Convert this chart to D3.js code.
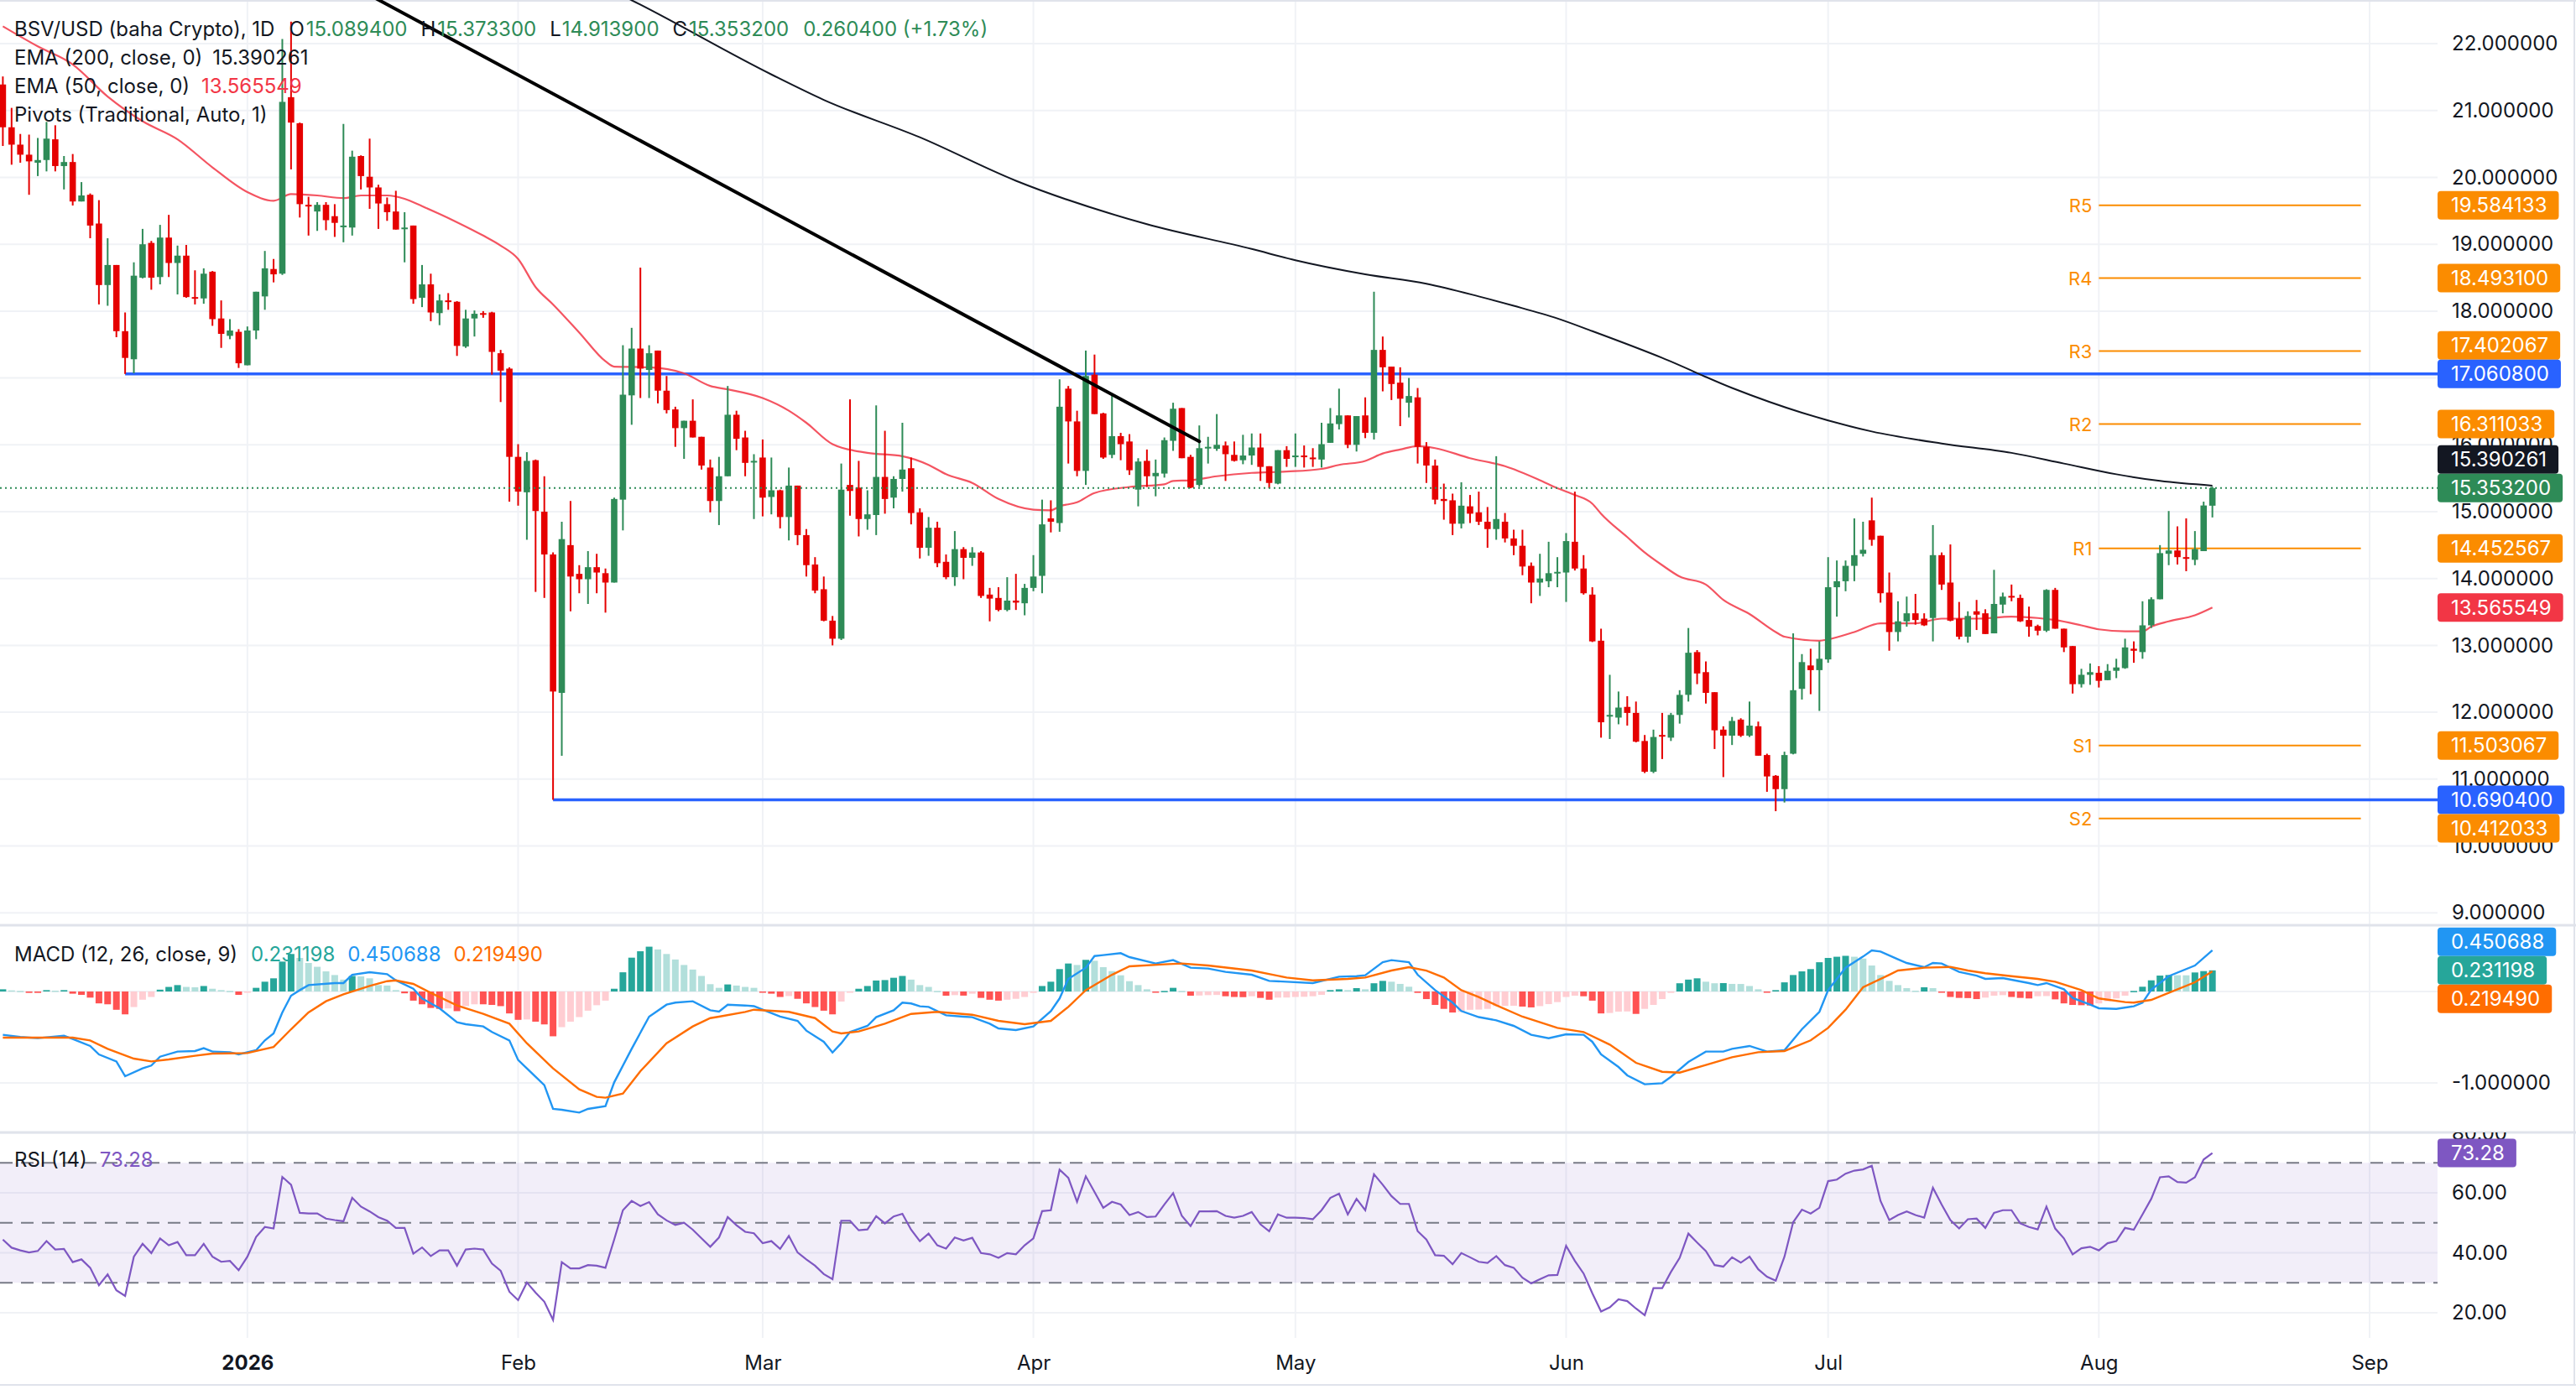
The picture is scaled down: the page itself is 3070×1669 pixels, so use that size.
<!DOCTYPE html>
<html>
<head>
<meta charset="utf-8">
<script src="https://cdn.jsdelivr.net/npm/d3@7"></script>
<style>
  html, body { margin: 0; padding: 0; background: #fff; }
  svg { display: block; font-family: Inter, "Noto Sans", sans-serif; }
</style>
</head>
<body>
<svg id="chart" width="3070" height="1669"></svg>
<script>
// Daily BSV/USD candles, first bar on this day
const firstDay = '2025-12-04';

const open = [
  21.39, 20.75, 20.49, 20.34, 20.22, 20.26, 20.57, 20.17, 20.23, 19.64,
  19.74, 19.31, 18.39, 18.69, 17.70, 17.28, 18.50, 19.02, 18.51, 19.10,
  18.72, 18.83, 18.21, 18.19, 18.59, 17.89, 17.63, 17.69, 17.19, 17.71,
  18.22, 18.63, 18.56, 21.20, 20.81, 19.59, 19.49, 19.59, 19.42, 19.26,
  19.25, 20.32, 20.01, 19.85, 19.60, 19.49, 19.23, 19.28, 18.20, 18.40,
  17.97, 18.16, 18.14, 17.47, 17.89, 17.97, 17.98, 17.37, 17.14, 15.82,
  15.29, 15.77, 15.00, 14.36, 12.29, 14.50, 14.07, 13.99, 14.17, 14.08,
  13.94, 15.18, 16.74, 17.44, 17.12, 17.41, 16.81, 16.53, 16.25, 16.36,
  16.12, 15.66, 15.16, 15.53, 16.45, 16.11, 15.74, 15.81, 15.22, 15.32,
  14.92, 15.39, 14.65, 14.21, 13.84, 13.37, 13.10, 15.40, 15.36, 14.89,
  14.95, 15.52, 15.21, 15.49, 15.65, 14.99, 14.46, 14.76, 14.25, 14.02,
  14.44, 14.31, 14.39, 13.76, 13.71, 13.53, 13.67, 13.63, 13.86, 14.04,
  14.90, 14.83, 16.84, 16.35, 15.61, 17.05, 16.47, 15.85, 16.13, 16.05,
  15.33, 15.76, 15.53, 15.57, 16.06, 16.55, 15.82, 15.40, 15.95, 15.94,
  15.99, 15.85, 15.77, 15.84, 15.96, 15.68, 15.42, 15.92, 15.82, 15.84,
  15.81, 15.78, 16.03, 16.31, 16.44, 16.00, 16.44, 16.18, 17.42, 17.17,
  16.93, 16.63, 16.71, 15.97, 15.69, 15.19, 15.17, 14.82, 15.08, 14.99,
  14.85, 14.74, 14.85, 14.60, 14.49, 14.19, 13.94, 13.96, 14.09, 14.09,
  14.55, 14.15, 13.76, 13.07, 11.94, 11.92, 12.08, 11.99, 11.57, 11.11,
  11.66, 11.62, 11.96, 12.26, 12.90, 12.60, 12.30, 11.74, 11.65, 11.89,
  11.65, 11.79, 11.36, 11.05, 10.85, 11.38, 12.35, 12.70, 12.63, 12.79,
  13.87, 13.96, 14.19, 14.37, 14.87, 14.64, 13.79, 13.20, 13.36, 13.48,
  13.40, 13.41, 14.35, 13.94, 13.40, 13.13, 13.51, 13.48, 13.18, 13.61,
  13.74, 13.71, 13.38, 13.29, 13.22, 13.83, 13.25, 12.99, 12.42, 12.56,
  12.59, 12.48, 12.62, 12.66, 12.95, 12.90, 13.30, 13.69, 14.37, 14.42,
  14.32, 14.28, 14.41, 15.0894
];
const high = [
  21.51, 21.04, 20.65, 20.64, 20.59, 20.83, 20.78, 20.32, 20.35, 19.93,
  19.76, 19.66, 19.09, 18.69, 17.98, 18.73, 19.23, 19.05, 19.29, 19.44,
  18.98, 18.99, 18.61, 18.64, 18.60, 18.16, 17.88, 17.73, 17.77, 18.29,
  18.90, 18.78, 22.07, 22.33, 20.82, 19.71, 19.63, 19.63, 19.60, 20.80,
  20.40, 20.33, 20.58, 19.89, 19.70, 19.80, 19.48, 19.28, 18.69, 18.56,
  18.25, 18.27, 18.15, 18.02, 18.01, 18.00, 17.99, 17.42, 17.16, 16.01,
  15.89, 15.78, 15.53, 14.39, 14.85, 15.16, 14.20, 14.41, 14.37, 14.15,
  15.21, 17.49, 17.75, 18.65, 17.49, 17.41, 17.03, 16.57, 16.36, 16.68,
  16.12, 15.78, 15.82, 16.88, 16.51, 16.21, 15.86, 16.08, 15.81, 15.33,
  15.66, 15.39, 14.74, 14.32, 14.03, 13.44, 15.72, 16.68, 15.76, 15.32,
  16.59, 16.21, 15.53, 16.33, 15.81, 15.05, 14.92, 14.85, 14.36, 14.71,
  14.47, 14.47, 14.41, 13.86, 13.87, 14.02, 14.07, 13.92, 14.35, 15.18,
  15.17, 16.98, 16.88, 16.51, 17.41, 17.35, 16.48, 16.76, 16.18, 16.16,
  15.80, 15.93, 15.78, 16.11, 16.63, 16.55, 15.85, 16.29, 16.12, 16.46,
  16.05, 16.05, 16.15, 16.17, 16.17, 15.68, 15.92, 15.98, 16.17, 15.99,
  15.95, 16.33, 16.55, 16.84, 16.44, 16.43, 16.71, 18.29, 17.62, 17.17,
  17.16, 17.00, 16.85, 16.04, 15.78, 15.42, 15.27, 15.44, 15.25, 15.30,
  15.07, 15.83, 14.98, 14.73, 14.73, 14.24, 14.37, 14.55, 14.32, 14.68,
  15.30, 14.35, 13.87, 13.25, 12.56, 12.31, 12.24, 12.16, 11.66, 11.74,
  11.99, 11.99, 12.33, 13.26, 12.93, 12.76, 12.30, 11.79, 11.93, 11.91,
  12.16, 11.86, 11.38, 11.06, 11.41, 13.18, 12.87, 12.95, 13.06, 14.32,
  14.27, 14.27, 14.90, 14.85, 15.21, 14.64, 14.09, 13.66, 13.73, 13.77,
  13.48, 14.80, 14.39, 14.51, 13.65, 13.51, 13.68, 13.54, 14.13, 13.79,
  13.91, 13.76, 13.58, 13.31, 13.84, 13.86, 13.25, 12.99, 12.65, 12.73,
  12.69, 12.72, 12.80, 13.10, 13.06, 13.66, 13.72, 14.50, 15.01, 14.78,
  14.90, 14.71, 15.15, 15.3733
];
const low = [
  20.47, 20.19, 20.22, 19.74, 20.02, 20.09, 20.09, 19.82, 19.58, 19.64,
  19.09, 18.10, 18.08, 17.61, 17.06, 17.07, 18.49, 18.32, 18.40, 18.51,
  18.25, 18.20, 18.10, 18.11, 17.78, 17.45, 17.58, 17.15, 17.19, 17.58,
  18.02, 18.43, 18.54, 20.12, 19.40, 19.13, 19.20, 19.21, 19.11, 19.03,
  19.13, 19.82, 19.53, 19.23, 19.35, 19.22, 18.73, 18.11, 18.06, 17.85,
  17.79, 18.02, 17.33, 17.45, 17.62, 17.90, 17.05, 16.64, 15.15, 15.09,
  14.58, 13.80, 13.71, 10.69, 11.35, 13.51, 13.78, 13.62, 13.78, 13.49,
  13.94, 14.72, 16.30, 16.70, 16.70, 16.62, 16.47, 15.97, 15.79, 16.11,
  15.63, 14.99, 14.80, 15.53, 15.92, 15.53, 14.89, 14.93, 14.96, 14.75,
  14.57, 14.50, 14.03, 13.78, 13.36, 13.00, 13.08, 14.94, 14.63, 14.73,
  14.65, 14.97, 15.05, 15.30, 14.81, 14.30, 14.34, 14.17, 13.99, 13.89,
  13.99, 14.19, 13.71, 13.36, 13.51, 13.51, 13.53, 13.45, 13.81, 13.78,
  14.69, 14.70, 15.72, 15.53, 15.40, 16.46, 15.79, 15.80, 15.77, 15.55,
  15.08, 15.37, 15.23, 15.51, 15.91, 15.80, 15.35, 15.37, 15.72, 15.91,
  15.46, 15.75, 15.71, 15.70, 15.46, 15.35, 15.41, 15.67, 15.67, 15.66,
  15.67, 15.66, 16.03, 16.23, 15.95, 15.90, 16.10, 16.08, 16.80, 16.67,
  16.28, 16.41, 15.72, 15.43, 15.11, 14.88, 14.65, 14.75, 14.83, 14.80,
  14.46, 14.58, 14.54, 14.35, 14.05, 13.63, 13.74, 13.87, 13.87, 13.65,
  14.12, 13.76, 13.05, 11.62, 11.60, 11.82, 11.80, 11.55, 11.09, 11.09,
  11.30, 11.57, 11.83, 12.16, 12.42, 12.13, 11.45, 11.03, 11.51, 11.63,
  11.63, 11.35, 10.81, 10.52, 10.65, 11.37, 12.19, 12.27, 12.02, 12.74,
  13.43, 13.81, 13.96, 14.33, 14.49, 13.64, 12.92, 13.06, 13.28, 13.31,
  13.29, 13.06, 13.83, 13.36, 13.09, 13.04, 13.23, 13.17, 13.18, 13.48,
  13.66, 13.35, 13.13, 13.15, 13.20, 13.25, 12.90, 12.28, 12.37, 12.41,
  12.37, 12.48, 12.51, 12.65, 12.74, 12.80, 13.26, 13.69, 14.20, 14.21,
  14.11, 14.20, 14.41, 14.9139
];
const close = [
  20.75, 20.49, 20.34, 20.24, 20.26, 20.58, 20.17, 20.23, 19.64, 19.73,
  19.28, 18.39, 18.69, 17.70, 17.30, 18.53, 19.00, 18.50, 19.10, 18.72,
  18.83, 18.21, 18.20, 18.56, 17.88, 17.66, 17.71, 17.22, 17.71, 18.29,
  18.64, 18.55, 21.13, 20.82, 19.60, 19.57, 19.59, 19.36, 19.32, 19.28,
  20.31, 20.02, 19.85, 19.61, 19.48, 19.22, 19.25, 18.18, 18.40, 17.98,
  18.16, 18.15, 17.48, 17.89, 17.96, 17.95, 17.39, 17.11, 15.82, 15.30,
  15.76, 15.01, 14.36, 12.31, 14.59, 14.03, 13.99, 14.17, 14.09, 13.94,
  15.19, 16.75, 17.44, 17.14, 17.37, 16.81, 16.52, 16.25, 16.36, 16.11,
  15.69, 15.16, 15.53, 16.45, 16.09, 15.73, 15.76, 15.21, 15.32, 14.92,
  15.39, 14.65, 14.20, 13.82, 13.37, 13.10, 15.33, 15.31, 14.89, 14.96,
  15.52, 15.19, 15.49, 15.63, 14.98, 14.46, 14.76, 14.23, 14.02, 14.44,
  14.31, 14.39, 13.74, 13.70, 13.53, 13.67, 13.64, 13.86, 14.03, 14.81,
  14.85, 16.57, 16.35, 15.61, 17.03, 16.46, 15.81, 16.13, 16.01, 15.62,
  15.75, 15.53, 15.58, 16.07, 16.54, 15.80, 15.36, 15.95, 15.97, 16.00,
  15.86, 15.76, 15.84, 15.96, 15.67, 15.43, 15.92, 15.79, 15.84, 15.82,
  15.79, 16.01, 16.32, 16.44, 16.00, 16.43, 16.18, 17.42, 17.16, 16.91,
  16.69, 16.73, 15.97, 15.69, 15.18, 15.16, 14.82, 15.09, 14.97, 14.85,
  14.74, 14.89, 14.60, 14.49, 14.18, 13.94, 14.00, 14.08, 14.10, 14.56,
  14.15, 13.78, 13.06, 11.85, 11.96, 12.07, 11.99, 11.56, 11.11, 11.63,
  11.64, 11.96, 12.26, 12.89, 12.58, 12.29, 11.73, 11.65, 11.87, 11.65,
  11.80, 11.35, 11.04, 10.85, 11.36, 12.33, 12.75, 12.63, 12.80, 13.87,
  13.96, 14.19, 14.35, 14.43, 14.58, 13.78, 13.20, 13.36, 13.48, 13.38,
  13.30, 14.35, 13.91, 13.37, 13.13, 13.44, 13.46, 13.17, 13.62, 13.73,
  13.72, 13.36, 13.28, 13.22, 13.83, 13.25, 12.97, 12.42, 12.56, 12.60,
  12.47, 12.62, 12.67, 12.97, 12.92, 13.30, 13.69, 14.38, 14.42, 14.32,
  14.31, 14.44, 15.0928, 15.3532
];

// [bar index, value] readings of the moving averages
const ema200 = [
  [40, 24.60], [50, 23.95], [59, 23.45], [72, 22.65], [88, 21.54], [94, 21.16],
  [105, 20.60], [116, 19.95], [131, 19.30], [143, 18.93], [148, 18.76], [156, 18.55],
  [163, 18.41], [169, 18.22], [173, 18.08], [178, 17.89], [182, 17.70], [190, 17.30],
  [198, 16.85], [206, 16.48], [214, 16.20], [222, 16.02], [230, 15.88], [236, 15.72],
  [242, 15.56], [247, 15.46], [253, 15.390261]
];
const ema50 = [
  [0, 22.26], [4, 21.96], [8, 21.69], [12, 21.21], [16, 20.84], [20, 20.57], [24, 20.15],
  [28, 19.78], [31, 19.65], [33, 19.75], [36, 19.73], [39, 19.69], [41, 19.73], [44, 19.73],
  [46, 19.68], [48, 19.57], [52, 19.33], [55, 19.13], [57, 18.98], [59, 18.78], [61, 18.36],
  [63, 18.10], [66, 17.68], [69, 17.25], [70, 17.17], [74, 17.16], [78, 17.07], [81, 16.88],
  [83, 16.83], [87, 16.70], [90, 16.51], [92, 16.33], [95, 16.01], [99, 15.88], [103, 15.83],
  [106, 15.70], [108, 15.56], [111, 15.43], [114, 15.19], [118, 15.03], [120, 15.02],
  [121, 15.08], [123, 15.14], [125, 15.28], [129, 15.37], [133, 15.41], [134, 15.46],
  [136, 15.47], [139, 15.53], [143, 15.58], [147, 15.60], [151, 15.64], [153, 15.70],
  [156, 15.76], [158, 15.87], [160, 15.93], [162, 15.98], [164, 15.95], [168, 15.80],
  [172, 15.68], [176, 15.47], [178, 15.35], [180, 15.25], [182, 15.12], [183, 14.97],
  [186, 14.62], [188, 14.39], [190, 14.20], [192, 14.03], [195, 13.91], [197, 13.68],
  [200, 13.47], [203, 13.20], [204, 13.13], [208, 13.07], [209, 13.09], [212, 13.20],
  [215, 13.33], [219, 13.33], [222, 13.40], [226, 13.40], [230, 13.43], [233, 13.41],
  [235, 13.38], [238, 13.30], [240, 13.24], [243, 13.21], [245, 13.21], [246, 13.28],
  [248, 13.36], [251, 13.45], [253, 13.565549]
];

// drawn trendline and horizontal levels
const trendDates = ['2026-01-06', '2026-04-20'];
const trendValues = [23.36, 16.05];
const levelStart = ['2025-12-18', '2026-02-05'];
const levelValues = [17.0608, 10.6904];
const pivotNames = ['R5', 'R4', 'R3', 'R2', 'R1', 'S1', 'S2'];
const pivotValues = [19.584133, 18.4931, 17.402067, 16.311033, 14.452567, 11.503067, 10.412033];
const pivotSpan = ['2026-08-01', '2026-08-31'];

// MACD (12, 26, close, 9)
const macdHist = [
  0.024, 0.012, 0.006, -0.015, -0.015, 0.015, 0.009, 0.015, -0.024, -0.037,
  -0.067, -0.13, -0.14, -0.20, -0.25, -0.17, -0.09, -0.06, 0.02, 0.05,
  0.07, 0.05, 0.046, 0.06, 0.03, 0.015, 0.006, -0.037, -0.01, 0.04,
  0.107, 0.144, 0.327, 0.41, 0.367, 0.312, 0.27, 0.22, 0.18, 0.13,
  0.17, 0.165, 0.144, 0.07, 0.065, 0.015, -0.02, -0.10, -0.14, -0.18,
  -0.19, -0.185, -0.215, -0.16, -0.14, -0.14, -0.147, -0.16, -0.24, -0.31,
  -0.306, -0.33, -0.36, -0.49, -0.39, -0.33, -0.28, -0.21, -0.15, -0.10,
  0.03, 0.21, 0.37, 0.44, 0.49, 0.46, 0.41, 0.35, 0.29, 0.24,
  0.17, 0.08, 0.04, 0.077, 0.065, 0.05, 0.04, -0.01, -0.024, -0.06,
  -0.05, -0.08, -0.13, -0.17, -0.21, -0.25, -0.11, -0.01, 0.03, 0.06,
  0.12, 0.125, 0.15, 0.17, 0.13, 0.07, 0.05, 0.006, -0.046, -0.04,
  -0.045, -0.024, -0.07, -0.09, -0.10, -0.09, -0.08, -0.06, -0.015, 0.06,
  0.107, 0.245, 0.306, 0.29, 0.346, 0.336, 0.266, 0.223, 0.177, 0.113,
  0.07, 0.024, -0.01, 0.006, 0.04, 0.006, -0.046, -0.044, -0.04, -0.038,
  -0.052, -0.06, -0.062, -0.052, -0.07, -0.09, -0.067, -0.066, -0.06, -0.058,
  -0.052, -0.037, 0.015, 0.024, 0.015, 0.037, 0.024, 0.09, 0.116, 0.107,
  0.083, 0.052, -0.015, -0.083, -0.147, -0.19, -0.23, -0.223, -0.2, -0.198,
  -0.19, -0.16, -0.158, -0.156, -0.165, -0.174, -0.16, -0.138, -0.116, -0.06,
  -0.046, -0.052, -0.10, -0.24, -0.235, -0.22, -0.218, -0.245, -0.19, -0.147,
  -0.083, -0.015, 0.09, 0.13, 0.144, 0.107, 0.09, 0.092, 0.083, 0.082,
  0.06, 0.024, -0.01, 0.015, 0.1, 0.18, 0.22, 0.245, 0.32, 0.367,
  0.38, 0.39, 0.38, 0.36, 0.284, 0.18, 0.116, 0.07, 0.037, 0.009,
  0.046, 0.037, -0.01, -0.06, -0.07, -0.072, -0.083, -0.067, -0.046, -0.04,
  -0.06, -0.07, -0.076, -0.052, -0.05, -0.086, -0.13, -0.147, -0.15, -0.153,
  -0.13, -0.107, -0.076, -0.046, 0.006, 0.052, 0.122, 0.174, 0.18, 0.178,
  0.177, 0.208, 0.223, 0.231198
];
const macdLine = [
  [0, -0.474], [2, -0.498], [4, -0.51], [7, -0.483], [8, -0.52], [10, -0.596], [11, -0.688],
  [13, -0.765], [14, -0.927], [16, -0.841], [17, -0.81], [18, -0.713], [20, -0.657],
  [22, -0.651], [23, -0.62], [24, -0.657], [26, -0.664], [27, -0.688], [29, -0.642],
  [30, -0.535], [31, -0.459], [32, -0.229], [33, -0.046], [34, 0.015], [35, 0.07],
  [38, 0.092], [39, 0.092], [40, 0.183], [42, 0.211], [44, 0.19], [45, 0.122], [47, 0.031],
  [48, -0.076], [50, -0.183], [52, -0.336], [53, -0.358], [55, -0.382], [56, -0.443],
  [58, -0.535], [59, -0.749], [60, -0.841], [62, -1.024], [63, -1.284], [64, -1.294],
  [66, -1.324], [67, -1.284], [69, -1.254], [70, -0.994], [72, -0.627], [74, -0.275],
  [76, -0.144], [77, -0.122], [79, -0.107], [81, -0.205], [82, -0.22], [83, -0.144],
  [85, -0.153], [86, -0.16], [87, -0.199], [89, -0.275], [91, -0.321], [92, -0.428],
  [94, -0.55], [95, -0.667], [96, -0.566], [97, -0.443], [99, -0.376], [100, -0.281],
  [102, -0.205], [103, -0.122], [104, -0.131], [105, -0.162], [106, -0.168], [108, -0.26],
  [110, -0.275], [111, -0.281], [113, -0.352], [114, -0.404], [116, -0.422], [118, -0.382],
  [120, -0.214], [121, -0.076], [122, 0.138], [124, 0.26], [125, 0.388], [126, 0.398],
  [128, 0.419], [129, 0.376], [132, 0.306], [134, 0.343], [136, 0.26], [138, 0.251],
  [140, 0.214], [143, 0.183], [145, 0.116], [147, 0.107], [150, 0.092], [153, 0.162],
  [155, 0.168], [156, 0.177], [158, 0.321], [159, 0.343], [161, 0.321], [162, 0.183],
  [164, 0.015], [166, -0.122], [167, -0.214], [169, -0.28], [171, -0.315], [173, -0.376],
  [175, -0.474], [177, -0.511], [179, -0.468], [181, -0.474], [182, -0.55], [183, -0.688],
  [185, -0.826], [186, -0.917], [188, -1.015], [190, -1.003], [191, -0.933], [193, -0.771],
  [195, -0.657], [197, -0.657], [198, -0.627], [200, -0.596], [202, -0.657], [204, -0.642],
  [206, -0.413], [208, -0.223], [209, 0.015], [211, 0.26], [213, 0.382], [214, 0.45],
  [215, 0.437], [217, 0.352], [218, 0.312], [220, 0.266], [221, 0.312], [222, 0.306],
  [224, 0.214], [226, 0.174], [227, 0.138], [229, 0.147], [232, 0.092], [233, 0.07],
  [234, 0.092], [236, 0.024], [237, -0.07], [239, -0.144], [240, -0.183], [242, -0.19],
  [244, -0.162], [245, -0.122], [246, 0.02], [248, 0.168], [251, 0.284], [253, 0.450688]
];
const signalLine = [
  [0, -0.505], [4, -0.505], [8, -0.505], [10, -0.535], [12, -0.627], [15, -0.734],
  [17, -0.765], [19, -0.743], [22, -0.703], [24, -0.679], [26, -0.676], [28, -0.673],
  [31, -0.606], [33, -0.413], [35, -0.229], [37, -0.107], [39, -0.031], [42, 0.061],
  [44, 0.113], [45, 0.122], [47, 0.083], [49, -0.015], [52, -0.153], [55, -0.245],
  [58, -0.352], [60, -0.566], [63, -0.841], [66, -1.07], [68, -1.153], [69, -1.162],
  [71, -1.116], [73, -0.872], [76, -0.566], [79, -0.382], [81, -0.291], [82, -0.275],
  [85, -0.223], [86, -0.199], [90, -0.223], [93, -0.291], [95, -0.437], [96, -0.459],
  [98, -0.437], [101, -0.352], [104, -0.245], [107, -0.223], [111, -0.254], [114, -0.321],
  [117, -0.358], [120, -0.321], [122, -0.168], [124, 0.015], [127, 0.183], [129, 0.275],
  [133, 0.297], [135, 0.306], [138, 0.284], [143, 0.229], [147, 0.153], [150, 0.122],
  [154, 0.138], [156, 0.153], [159, 0.229], [161, 0.266], [163, 0.229], [165, 0.153],
  [167, 0.015], [169, -0.06], [171, -0.15], [174, -0.275], [178, -0.398], [181, -0.443],
  [184, -0.581], [187, -0.78], [190, -0.878], [192, -0.887], [195, -0.804], [198, -0.719],
  [201, -0.664], [204, -0.651], [207, -0.535], [209, -0.398], [211, -0.199], [213, 0.046],
  [216, 0.183], [217, 0.229], [220, 0.26], [223, 0.269], [225, 0.229], [227, 0.199],
  [230, 0.168], [233, 0.138], [235, 0.107], [238, 0.015], [240, -0.076], [243, -0.116],
  [244, -0.122], [246, -0.092], [248, -0.015], [251, 0.101], [253, 0.21949]
];

// RSI (14)
const rsi = [
  44.4, 41.7, 40.8, 40.1, 40.6, 43.9, 41.1, 41.3, 36.9, 37.8,
  35.0, 29.2, 32.8, 27.5, 25.6, 38.7, 43.0, 39.9, 44.8, 42.5,
  43.6, 39.2, 39.2, 43.0, 38.7, 37.0, 37.3, 34.2, 38.7, 45.3,
  48.6, 48.1, 65.3, 62.7, 53.3, 53.1, 53.1, 51.4, 50.9, 50.5,
  58.3, 55.4, 53.8, 51.9, 50.7, 48.3, 48.3, 39.7, 41.8, 38.9,
  40.8, 40.8, 35.7, 41.1, 41.4, 41.1, 36.4, 34.0, 27.0, 24.2,
  30.1, 26.7, 23.7, 17.6, 36.9, 34.8, 34.8, 35.9, 35.7, 35.0,
  44.4, 54.2, 57.3, 55.6, 56.9, 52.8, 50.8, 49.3, 50.0, 47.7,
  44.8, 42.0, 45.1, 51.9, 49.2, 47.0, 46.5, 43.2, 43.9, 41.3,
  45.6, 40.1, 37.8, 35.7, 32.9, 31.2, 50.7, 50.7, 47.5, 47.8,
  52.2, 49.8, 52.1, 53.0, 47.7, 43.9, 46.4, 42.5, 41.4, 45.1,
  44.1, 45.0, 39.9, 39.5, 38.3, 39.9, 39.5, 42.5, 44.8, 53.9,
  54.2, 67.7, 65.0, 57.0, 65.5, 60.3, 55.0, 57.0, 56.1, 52.6,
  53.6, 51.9, 52.1, 56.1, 59.9, 52.3, 48.9, 53.8, 53.8, 53.9,
  52.3, 51.7, 52.3, 53.6, 49.5, 47.2, 52.8, 51.7, 51.7, 51.6,
  51.2, 54.2, 58.3, 59.7, 52.8, 58.0, 54.2, 66.2, 62.7, 58.9,
  56.3, 56.3, 47.2, 44.4, 39.2, 39.0, 36.2, 39.9, 38.5, 37.0,
  36.6, 38.9, 35.9, 35.0, 31.7, 29.8, 31.2, 32.5, 32.6, 42.3,
  37.3, 33.1, 26.5, 20.4, 21.8, 24.5, 23.9, 21.4, 19.2, 28.2,
  28.2, 33.6, 38.3, 46.4, 43.4, 40.6, 35.9, 35.4, 38.5, 36.7,
  38.7, 34.5, 32.0, 30.7, 38.7, 50.2, 54.4, 53.1, 55.0, 63.9,
  64.4, 66.4, 67.4, 67.8, 69.0, 57.3, 50.9, 52.6, 53.8, 52.6,
  51.7, 61.7, 56.1, 50.9, 48.1, 51.2, 51.4, 48.3, 53.3, 54.2,
  54.2, 49.8, 48.6, 47.8, 55.4, 48.1, 44.8, 39.5, 41.5, 42.0,
  40.8, 43.2, 43.9, 48.3, 47.7, 52.8, 58.0, 65.2, 65.5, 63.6,
  63.4, 65.2, 71.1, 73.28
];
const rsiBands = [70, 50, 30];

// axis ticks
const priceTicks = [9, 10, 11, 12, 13, 14, 15, 16, 17, 18, 19, 20, 21, 22];
const macdGrid = [0, -1];
const macdTicks = [-1];
const rsiTicks = [20, 40, 60, 80];
const monthDates = ['2026-01-01', '2026-02-01', '2026-03-01', '2026-04-01', '2026-05-01',
  '2026-06-01', '2026-07-01', '2026-08-01', '2026-09-01'];
const monthLabels = ['2026', 'Feb', 'Mar', 'Apr', 'May', 'Jun', 'Jul', 'Aug', 'Sep'];

// ---------------------------------------------------------------------------
const W = 3070, H = 1669, PR = 2905;
const pane = {
  price: [0, 1103],
  macd: [1103, 1350],
  rsi: [1350, 1595]
};
const UP = '#2e8b57', DOWN = '#e50000', TEXT = '#131722';
const GRID = '#f0f2f6', SEP = '#e0e3eb';
const PIVOT = '#fb8c00', LEVEL = '#2962ff';
const EMA50C = '#f23645', EMA200C = '#131722';
const MACDC = '#2196f3', SIGC = '#ff6d00', RSIC = '#7e57c2';

const parse = d3.utcParse('%Y-%m-%d');
const start = parse(firstDay);
const dates = d3.utcDay.range(start, d3.utcDay.offset(start, open.length));
const fmt = d3.formatLocale({ decimal: '.', thousands: ',', grouping: [3], currency: ['', ''], minus: '-' });
const f6 = fmt.format('.6f'), f2 = fmt.format('.2f');

const x = d3.scaleUtc().domain([start, parse('2026-09-01')]).range([3.4, 2824]);
const yPrice = d3.scaleLinear().domain([9, 22]).range([1088.2, 52.1]);
const yMacd = d3.scaleLinear().domain([-1, 0]).range([1291, 1182]);
const yRsi = d3.scaleLinear().domain([20, 60]).range([1565, 1422]);

const svg = d3.select('#chart');
svg.append('rect').attr('width', W).attr('height', H).attr('fill', '#fff');

const defs = svg.append('defs');
function clip(id, x0, y0, w, h) {
  defs.append('clipPath').attr('id', id).append('rect')
    .attr('x', x0).attr('y', y0).attr('width', w).attr('height', h);
  return `url(#${id})`;
}
const clipPrice = clip('cp', 0, pane.price[0], PR, pane.price[1] - pane.price[0]);
const clipMacd = clip('cm', 0, pane.macd[0], PR, pane.macd[1] - pane.macd[0]);
const clipRsi = clip('cr', 0, pane.rsi[0], PR, pane.rsi[1] - pane.rsi[0]);
const clipRsiAxis = clip('cra', PR, pane.rsi[0], W - PR, pane.rsi[1] - pane.rsi[0]);

// grid
const grid = svg.append('g').attr('stroke', GRID).attr('stroke-width', 2);
grid.selectAll('line.v').data(monthDates).join('line')
  .attr('x1', d => x(parse(d))).attr('x2', d => x(parse(d)))
  .attr('y1', 0).attr('y2', pane.rsi[1]);
grid.append('g').selectAll('line').data(priceTicks).join('line')
  .attr('x1', 0).attr('x2', PR).attr('y1', d => yPrice(d)).attr('y2', d => yPrice(d));
grid.append('g').selectAll('line').data(macdGrid).join('line')
  .attr('x1', 0).attr('x2', PR).attr('y1', d => yMacd(d)).attr('y2', d => yMacd(d));
grid.append('g').attr('clip-path', clipRsi).selectAll('line').data(rsiTicks).join('line')
  .attr('x1', 0).attr('x2', PR).attr('y1', d => yRsi(d)).attr('y2', d => yRsi(d));

// RSI band
svg.append('rect')
  .attr('x', 0).attr('width', PR)
  .attr('y', yRsi(rsiBands[0])).attr('height', yRsi(rsiBands[2]) - yRsi(rsiBands[0]))
  .attr('fill', RSIC).attr('fill-opacity', 0.1);
svg.append('g').selectAll('line').data(rsiBands).join('line')
  .attr('x1', 0).attr('x2', PR).attr('y1', d => yRsi(d)).attr('y2', d => yRsi(d))
  .attr('stroke', '#787b86').attr('stroke-width', 2).attr('stroke-dasharray', '15,10');

// pane separators and frame
svg.append('g').selectAll('line').data([pane.macd[0], pane.rsi[0]]).join('line')
  .attr('x1', 0).attr('x2', W).attr('y1', d => d).attr('y2', d => d)
  .attr('stroke', SEP).attr('stroke-width', 3);
svg.append('line').attr('x1', 3068).attr('x2', 3068).attr('y1', 0).attr('y2', 1651)
  .attr('stroke', SEP).attr('stroke-width', 2);
svg.append('line').attr('x1', 0).attr('x2', W).attr('y1', 1651).attr('y2', 1651)
  .attr('stroke', SEP).attr('stroke-width', 2);
svg.append('line').attr('x1', 0).attr('x2', W).attr('y1', 1).attr('y2', 1)
  .attr('stroke', SEP).attr('stroke-width', 2);

// ---- price pane
const pg = svg.append('g').attr('clip-path', clipPrice);

// pivots
const px0 = x(parse(pivotSpan[0])), px1 = x(parse(pivotSpan[1]));
pg.append('g').selectAll('line').data(pivotValues).join('line')
  .attr('x1', px0).attr('x2', px1).attr('y1', d => yPrice(d)).attr('y2', d => yPrice(d))
  .attr('stroke', PIVOT).attr('stroke-width', 2);
pg.append('g').selectAll('text').data(pivotNames).join('text')
  .attr('x', px0 - 8).attr('y', (d, i) => yPrice(pivotValues[i]))
  .attr('text-anchor', 'end').attr('dominant-baseline', 'central')
  .attr('font-size', 22).attr('fill', PIVOT).text(d => d);

// horizontal levels
pg.append('g').selectAll('line').data(levelValues).join('line')
  .attr('x1', (d, i) => x(parse(levelStart[i]))).attr('x2', PR)
  .attr('y1', d => yPrice(d)).attr('y2', d => yPrice(d))
  .attr('stroke', LEVEL).attr('stroke-width', 3.5);

// moving averages
const maLine = d3.line().x(p => x(dates[p[0]])).y(p => yPrice(p[1])).curve(d3.curveMonotoneX);
pg.append('path').attr('d', maLine(ema200)).attr('fill', 'none')
  .attr('stroke', EMA200C).attr('stroke-width', 2);
pg.append('path').attr('d', maLine(ema50)).attr('fill', 'none')
  .attr('stroke', EMA50C).attr('stroke-opacity', 0.85).attr('stroke-width', 2.2);

// candles
const bars = dates.map((d, i) => ({ d, o: open[i], h: high[i], l: low[i], c: close[i] }));
const cg = pg.append('g');
cg.selectAll('line').data(bars).join('line')
  .attr('x1', b => x(b.d)).attr('x2', b => x(b.d))
  .attr('y1', b => yPrice(b.h)).attr('y2', b => yPrice(b.l))
  .attr('stroke', b => b.c >= b.o ? UP : DOWN).attr('stroke-width', 2);
cg.selectAll('rect').data(bars).join('rect')
  .attr('x', b => x(b.d) - 3.8).attr('width', 7.6)
  .attr('y', b => yPrice(Math.max(b.o, b.c)))
  .attr('height', b => Math.max(2, Math.abs(yPrice(b.o) - yPrice(b.c))))
  .attr('fill', b => b.c >= b.o ? UP : DOWN);

// trendline
pg.append('line')
  .attr('x1', x(parse(trendDates[0]))).attr('y1', yPrice(trendValues[0]))
  .attr('x2', x(parse(trendDates[1]))).attr('y2', yPrice(trendValues[1]))
  .attr('stroke', '#000').attr('stroke-width', 4).attr('stroke-linecap', 'round');

// last price line
const last = close.length - 1;
pg.append('line').attr('x1', 0).attr('x2', PR)
  .attr('y1', yPrice(close[last])).attr('y2', yPrice(close[last]))
  .attr('stroke', UP).attr('stroke-width', 2).attr('stroke-dasharray', '2,4');

// ---- MACD pane
const mg = svg.append('g').attr('clip-path', clipMacd);
function histColor(v, i) {
  const prev = i > 0 ? macdHist[i - 1] : v;
  if (v >= 0) return v >= prev ? '#26a69a' : '#b2dfdb';
  return v <= prev ? '#ff5252' : '#ffcdd2';
}
mg.selectAll('rect').data(macdHist).join('rect')
  .attr('x', (v, i) => x(dates[i]) - 4).attr('width', 8)
  .attr('y', v => Math.min(yMacd(v), yMacd(0)))
  .attr('height', v => Math.max(1.5, Math.abs(yMacd(v) - yMacd(0))))
  .attr('fill', histColor);
const macdGen = d3.line().x(p => x(dates[p[0]])).y(p => yMacd(p[1]));
mg.append('path').attr('d', macdGen(macdLine)).attr('fill', 'none')
  .attr('stroke', MACDC).attr('stroke-width', 2.4);
mg.append('path').attr('d', macdGen(signalLine)).attr('fill', 'none')
  .attr('stroke', SIGC).attr('stroke-width', 2.4);

// ---- RSI pane
const rg = svg.append('g').attr('clip-path', clipRsi);
rg.append('path')
  .attr('d', d3.line().x((v, i) => x(dates[i])).y(v => yRsi(v))(rsi))
  .attr('fill', 'none').attr('stroke', RSIC).attr('stroke-width', 2.2);

// ---- axes
function styleAxis(g) {
  g.select('.domain').remove();
  g.selectAll('text').attr('font-size', 24).attr('fill', TEXT)
    .attr('font-family', 'Inter, "Noto Sans", sans-serif');
}
svg.append('g').attr('transform', `translate(${PR},0)`)
  .call(d3.axisRight(yPrice).tickValues(priceTicks).tickFormat(f6).tickSize(0).tickPadding(17))
  .call(styleAxis);
svg.append('g').attr('transform', `translate(${PR},0)`)
  .call(d3.axisRight(yMacd).tickValues(macdTicks).tickFormat(f6).tickSize(0).tickPadding(17))
  .call(styleAxis);
svg.append('g').attr('clip-path', clipRsiAxis)
  .append('g').attr('transform', `translate(${PR},0)`)
  .call(d3.axisRight(yRsi).tickValues(rsiTicks).tickFormat(f2).tickSize(0).tickPadding(17))
  .call(styleAxis);
svg.append('g').attr('transform', 'translate(0,1616)')
  .call(d3.axisBottom(x).tickValues(monthDates.map(parse))
    .tickFormat((d, i) => monthLabels[i]).tickSize(0).tickPadding(0))
  .call(styleAxis)
  .selectAll('text').attr('font-weight', (d, i) => i === 0 ? 700 : 400);

// ---- legends
function legend(y, parts) {
  const t = svg.append('text').attr('x', 17).attr('y', y)
    .attr('dominant-baseline', 'central').attr('font-size', 24);
  parts.forEach(p => {
    t.append('tspan').attr('dx', p.dx || 0).attr('fill', p.c || TEXT).text(p.t);
  });
}
const chg = close[last] - close[last - 1];
legend(34, [
  { t: 'BSV/USD (baha Crypto), 1D' },
  { t: 'O', dx: 17 }, { t: f6(open[last]), c: UP, dx: 2 },
  { t: 'H', dx: 16 }, { t: f6(high[last]), c: UP, dx: 2 },
  { t: 'L', dx: 16 }, { t: f6(low[last]), c: UP, dx: 2 },
  { t: 'C', dx: 16 }, { t: f6(close[last]), c: UP, dx: 2 },
  { t: `${f6(chg)} (+${f2(chg / close[last - 1] * 100)}%)`, c: UP, dx: 17 }
]);
legend(68, [{ t: 'EMA (200, close, 0)' }, { t: f6(ema200[ema200.length - 1][1]), c: EMA200C, dx: 12 }]);
legend(102, [{ t: 'EMA (50, close, 0)' }, { t: f6(ema50[ema50.length - 1][1]), c: EMA50C, dx: 14 }]);
legend(136, [{ t: 'Pivots (Traditional, Auto, 1)' }]);
legend(1137, [
  { t: 'MACD (12, 26, close, 9)' },
  { t: f6(macdHist[last]), c: '#26a69a', dx: 16 },
  { t: f6(macdLine[macdLine.length - 1][1]), c: MACDC, dx: 15 },
  { t: f6(signalLine[signalLine.length - 1][1]), c: SIGC, dx: 15 }
]);
legend(1382, [{ t: 'RSI (14)' }, { t: f2(rsi[last]), c: RSIC, dx: 15 }]);

// ---- value tags on the right scale
const TAG_H = 34;
function placeTags(tags) {
  tags.sort((a, b) => a.y - b.y);
  for (let pass = 0; pass < 6; pass++) {
    for (let i = 0; i < tags.length - 1; i++) {
      const a = tags[i], b = tags[i + 1];
      const overlap = a.y + TAG_H - b.y;
      if (overlap > 0) {
        if (a.rank > b.rank) b.y += overlap;
        else if (b.rank > a.rank) a.y -= overlap;
        else { a.y -= overlap / 2; b.y += overlap / 2; }
      }
    }
  }
  return tags;
}
function drawTags(tags) {
  const g = svg.append('g');
  tags.forEach(tag => {
    const box = g.append('rect').attr('x', PR).attr('y', tag.y - TAG_H / 2)
      .attr('height', TAG_H).attr('rx', 4).attr('fill', tag.color);
    const txt = g.append('text').attr('x', PR + 16).attr('y', tag.y)
      .attr('dominant-baseline', 'central').attr('font-size', 24).attr('fill', '#fff')
      .text(tag.label);
    box.attr('width', txt.node().getComputedTextLength() + 30);
  });
}
const priceTags = pivotValues.map(v => ({ v, color: PIVOT, rank: 3 }))
  .concat(levelValues.map(v => ({ v, color: LEVEL, rank: 4 })))
  .concat([
    { v: ema200[ema200.length - 1][1], color: EMA200C, rank: 2 },
    { v: ema50[ema50.length - 1][1], color: EMA50C, rank: 2 },
    { v: close[last], color: UP, rank: 5 }
  ])
  .map(t => Object.assign(t, { y: yPrice(t.v), label: f6(t.v) }));
drawTags(placeTags(priceTags));

const macdTags = [
  { v: macdLine[macdLine.length - 1][1], color: MACDC, rank: 3 },
  { v: macdHist[last], color: histColor(macdHist[last], last), rank: 5 },
  { v: signalLine[signalLine.length - 1][1], color: SIGC, rank: 3 }
].map(t => Object.assign(t, { y: yMacd(t.v), label: f6(t.v) }));
drawTags(placeTags(macdTags));

drawTags([{ y: yRsi(rsi[last]), color: RSIC, label: f2(rsi[last]) }]);
</script>
</body>
</html>
